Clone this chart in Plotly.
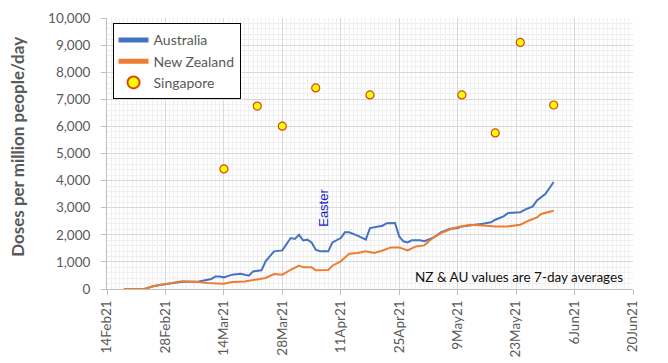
import pandas as pd
import plotly.graph_objects as go

START = pd.Timestamp("2021-02-14")

# Australia: day offsets from 14 Feb 2021 and 7-day average doses per million/day
au_day = [9, 11, 13, 14, 17, 18, 22, 24, 25, 26, 27, 28, 30, 32, 33, 34, 35, 37, 38, 40,
          42, 43, 44, 45, 46, 47, 48, 49, 50, 51, 53, 54, 56, 57, 58, 60, 61, 62, 63, 65,
          66, 67, 69, 70, 71, 72, 73, 75, 76, 78, 79, 80, 82, 84, 85, 88, 90, 92, 93, 95,
          96, 99, 100, 102, 103, 105, 107]
au_val = [0, 100, 160, 185, 260, 270, 280, 340, 370, 465, 465, 430, 530, 565, 530, 490, 650, 690, 1020, 1390,
          1425, 1635, 1880, 1850, 2000, 1790, 1820, 1720, 1450, 1390, 1390, 1720, 1880, 2090, 2090, 1970, 1900, 1820, 2250, 2310,
          2335, 2430, 2435, 1940, 1760, 1720, 1795, 1795, 1760, 1880, 2000, 2090, 2215, 2250, 2310, 2360, 2410, 2460, 2555, 2680,
          2800, 2830, 2920, 3050, 3270, 3505, 3950]

# New Zealand
nz_day = [4, 9, 11, 13, 14, 17, 18, 22, 24, 28, 30, 33, 35, 38, 40, 42, 44, 46, 47, 49,
          50, 53, 54, 56, 58, 60, 62, 64, 66, 68, 70, 72, 74, 76, 78, 80, 83, 85, 87, 91,
          93, 96, 99, 101, 103, 104, 107]
nz_val = [0, 0, 100, 160, 185, 260, 290, 260, 220, 195, 260, 280, 340, 405, 550, 530, 710, 860, 800, 800,
          690, 700, 860, 1020, 1300, 1330, 1390, 1330, 1420, 1535, 1535, 1420, 1570, 1610, 1880, 2065, 2250, 2310, 2370, 2335,
          2310, 2310, 2370, 2520, 2640, 2770, 2890]

# Singapore (daily values)
sg_dates = ["2021-03-14", "2021-03-22", "2021-03-28", "2021-04-05", "2021-04-18",
            "2021-05-10", "2021-05-18", "2021-05-24", "2021-06-01"]
sg_val = [4430, 6750, 6010, 7420, 7160, 7160, 5760, 9100, 6790]

au_dates = [START + pd.Timedelta(days=d) for d in au_day]
nz_dates = [START + pd.Timedelta(days=d) for d in nz_day]

FONT = "Lato"
GRAY = "#595959"

fig = go.Figure()
fig.add_trace(go.Scatter(x=au_dates, y=au_val, mode="lines", name="Australia",
                         line=dict(color="#4472C4", width=2)))
fig.add_trace(go.Scatter(x=nz_dates, y=nz_val, mode="lines", name="New Zealand",
                         line=dict(color="#ED7D31", width=2)))
fig.add_trace(go.Scatter(x=pd.to_datetime(sg_dates), y=sg_val, mode="markers", name="Singapore",
                         marker=dict(color="#FFFF00", size=8,
                                     line=dict(color="#E0440E", width=1.2))))

fig.update_xaxes(
    type="date", automargin=False,
    range=["2021-02-14", "2021-06-20"],
    tick0="2021-02-14", dtick=14 * 86400000,
    tickformat="%-d%b%y", tickangle=-90,
    tickfont=dict(family=FONT, size=13.5, color=GRAY),
    ticks="outside", ticklen=5, tickcolor="#BFBFBF",
    showline=True, linecolor="#BFBFBF", linewidth=1,
    showgrid=True, gridcolor="#D9D9D9", gridwidth=1,
    minor=dict(dtick=86400000, showgrid=True, gridcolor="#F0F0F0", gridwidth=1),
    zeroline=False,
)
fig.update_yaxes(
    range=[0, 10000], dtick=1000, tickformat=",", automargin=False,
    tickfont=dict(family=FONT, size=13.5, color=GRAY),
    ticks="outside", ticklen=5, tickcolor="#BFBFBF", ticklabelstandoff=8,
    showline=True, linecolor="#BFBFBF", linewidth=1,
    showgrid=True, gridcolor="#D9D9D9", gridwidth=1,
    minor=dict(dtick=200, showgrid=True, gridcolor="#F0F0F0", gridwidth=1),
    zeroline=False,
)

fig.add_annotation(text="Doses per million people/day", xref="paper", yref="paper",
                   x=-0.17, y=0.523, textangle=-90, showarrow=False,
                   xanchor="center", yanchor="middle",
                   font=dict(family=FONT, size=17, color=GRAY, weight="bold"))
fig.add_annotation(text="Easter", xref="x", yref="y", x="2021-04-07", y=3000,
                   textangle=-90, showarrow=False, xanchor="center", yanchor="middle",
                   font=dict(family="Liberation Sans", size=13, color="#1a1acc"))
fig.add_annotation(text="NZ & AU values are 7-day averages", xref="paper", yref="paper",
                   x=0.985, y=0.046, showarrow=False, xanchor="right", yanchor="middle",
                   font=dict(family=FONT, size=13.5, color="#111111"))

# page body has an 8px default margin; size/margins compensate for it
fig.update_layout(
    width=660, height=355,
    margin=dict(l=99, r=35, t=10, b=74, autoexpand=False),
    paper_bgcolor="white", plot_bgcolor="white",
    showlegend=True,
    legend=dict(x=0.0105, y=0.98, xanchor="left", yanchor="top",
                bgcolor="white", bordercolor="black", borderwidth=1,
                font=dict(family=FONT, size=14, color=GRAY),
                tracegroupgap=0, itemsizing="constant"),
)

fig.write_html("out.html")
